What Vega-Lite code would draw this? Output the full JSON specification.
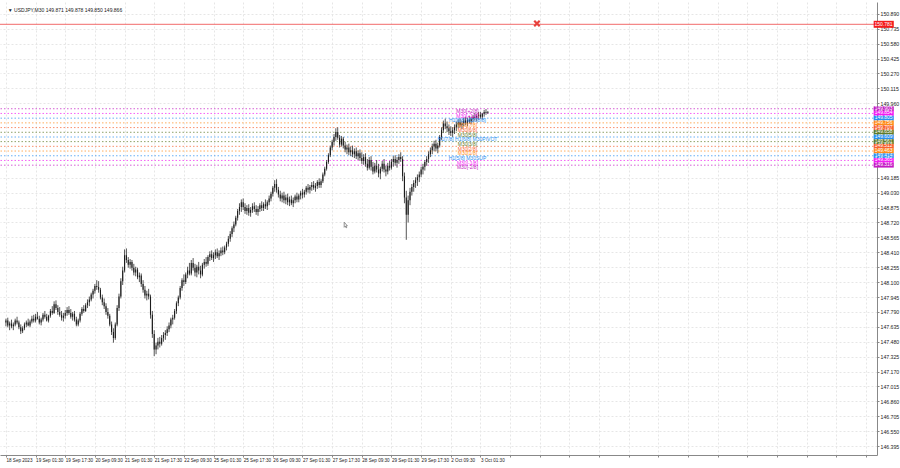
{
  "$schema": "https://vega.github.io/schema/vega-lite/v6.json",
  "width": 877,
  "height": 453,
  "autosize": {"type": "none"},
  "padding": {"left": 0, "top": 2, "right": 23, "bottom": 13},
  "background": "#ffffff",
  "config": {"view": {"stroke": null}, "font": "Liberation Sans", "axis": {"labelOverlap": false, "labelBound": false}},
  "resolve": {"axis": {"x": "independent", "y": "independent"}},
  "datasets": {
    "candles": [
      {"i":0,"o":147.68,"h":147.72,"l":147.64,"c":147.70},
      {"i":2,"o":147.70,"h":147.73,"l":147.63,"c":147.65},
      {"i":4,"o":147.65,"h":147.69,"l":147.60,"c":147.67},
      {"i":6,"o":147.67,"h":147.71,"l":147.62,"c":147.64},
      {"i":8,"o":147.64,"h":147.68,"l":147.60,"c":147.66},
      {"i":10,"o":147.66,"h":147.72,"l":147.64,"c":147.70},
      {"i":12,"o":147.70,"h":147.74,"l":147.66,"c":147.68},
      {"i":14,"o":147.68,"h":147.70,"l":147.61,"c":147.63},
      {"i":16,"o":147.63,"h":147.66,"l":147.56,"c":147.59},
      {"i":18,"o":147.59,"h":147.64,"l":147.57,"c":147.62},
      {"i":20,"o":147.62,"h":147.68,"l":147.60,"c":147.66},
      {"i":22,"o":147.66,"h":147.70,"l":147.63,"c":147.68},
      {"i":24,"o":147.68,"h":147.72,"l":147.64,"c":147.65},
      {"i":26,"o":147.65,"h":147.71,"l":147.63,"c":147.69},
      {"i":28,"o":147.69,"h":147.75,"l":147.67,"c":147.72},
      {"i":30,"o":147.72,"h":147.76,"l":147.68,"c":147.70},
      {"i":32,"o":147.70,"h":147.77,"l":147.68,"c":147.74},
      {"i":34,"o":147.74,"h":147.79,"l":147.71,"c":147.72},
      {"i":36,"o":147.72,"h":147.75,"l":147.66,"c":147.68},
      {"i":38,"o":147.68,"h":147.73,"l":147.65,"c":147.71},
      {"i":40,"o":147.71,"h":147.78,"l":147.69,"c":147.76},
      {"i":42,"o":147.76,"h":147.80,"l":147.72,"c":147.74},
      {"i":44,"o":147.74,"h":147.77,"l":147.69,"c":147.70},
      {"i":46,"o":147.70,"h":147.76,"l":147.68,"c":147.75},
      {"i":48,"o":147.75,"h":147.82,"l":147.73,"c":147.80},
      {"i":50,"o":147.80,"h":147.85,"l":147.76,"c":147.78},
      {"i":52,"o":147.78,"h":147.90,"l":147.77,"c":147.87},
      {"i":54,"o":147.87,"h":147.91,"l":147.81,"c":147.83},
      {"i":56,"o":147.83,"h":147.86,"l":147.76,"c":147.79},
      {"i":58,"o":147.79,"h":147.84,"l":147.74,"c":147.76},
      {"i":60,"o":147.76,"h":147.80,"l":147.70,"c":147.73},
      {"i":62,"o":147.73,"h":147.78,"l":147.69,"c":147.75},
      {"i":64,"o":147.75,"h":147.81,"l":147.72,"c":147.78},
      {"i":66,"o":147.78,"h":147.84,"l":147.75,"c":147.81},
      {"i":68,"o":147.81,"h":147.85,"l":147.76,"c":147.78},
      {"i":70,"o":147.78,"h":147.82,"l":147.72,"c":147.74},
      {"i":72,"o":147.74,"h":147.79,"l":147.70,"c":147.77},
      {"i":74,"o":147.77,"h":147.80,"l":147.69,"c":147.71},
      {"i":76,"o":147.71,"h":147.74,"l":147.64,"c":147.66},
      {"i":78,"o":147.66,"h":147.72,"l":147.64,"c":147.70},
      {"i":80,"o":147.70,"h":147.79,"l":147.68,"c":147.77},
      {"i":82,"o":147.77,"h":147.84,"l":147.75,"c":147.82},
      {"i":84,"o":147.82,"h":147.86,"l":147.78,"c":147.80},
      {"i":86,"o":147.80,"h":147.88,"l":147.79,"c":147.86},
      {"i":88,"o":147.86,"h":147.92,"l":147.83,"c":147.89},
      {"i":90,"o":147.89,"h":147.95,"l":147.85,"c":147.92},
      {"i":92,"o":147.92,"h":147.99,"l":147.90,"c":147.97},
      {"i":94,"o":147.97,"h":148.03,"l":147.93,"c":148.01},
      {"i":96,"o":148.01,"h":148.08,"l":147.98,"c":148.06},
      {"i":98,"o":148.06,"h":148.12,"l":148.02,"c":148.05},
      {"i":100,"o":148.05,"h":148.11,"l":147.99,"c":148.02},
      {"i":102,"o":148.02,"h":148.04,"l":147.92,"c":147.94},
      {"i":104,"o":147.94,"h":147.97,"l":147.86,"c":147.89},
      {"i":106,"o":147.89,"h":147.93,"l":147.82,"c":147.85},
      {"i":108,"o":147.85,"h":147.88,"l":147.76,"c":147.79},
      {"i":110,"o":147.79,"h":147.83,"l":147.72,"c":147.75},
      {"i":112,"o":147.75,"h":147.77,"l":147.64,"c":147.66},
      {"i":114,"o":147.66,"h":147.69,"l":147.55,"c":147.58},
      {"i":116,"o":147.58,"h":147.62,"l":147.47,"c":147.52},
      {"i":118,"o":147.52,"h":147.68,"l":147.50,"c":147.66},
      {"i":120,"o":147.66,"h":147.86,"l":147.64,"c":147.83},
      {"i":122,"o":147.83,"h":147.98,"l":147.80,"c":147.95},
      {"i":124,"o":147.95,"h":148.14,"l":147.93,"c":148.11},
      {"i":126,"o":148.11,"h":148.26,"l":148.07,"c":148.22},
      {"i":128,"o":148.22,"h":148.44,"l":148.20,"c":148.38},
      {"i":130,"o":148.38,"h":148.45,"l":148.30,"c":148.33},
      {"i":132,"o":148.33,"h":148.36,"l":148.25,"c":148.28},
      {"i":134,"o":148.28,"h":148.34,"l":148.24,"c":148.31},
      {"i":136,"o":148.31,"h":148.33,"l":148.22,"c":148.25},
      {"i":138,"o":148.25,"h":148.29,"l":148.17,"c":148.20},
      {"i":140,"o":148.20,"h":148.26,"l":148.16,"c":148.23},
      {"i":142,"o":148.23,"h":148.25,"l":148.13,"c":148.15},
      {"i":144,"o":148.15,"h":148.20,"l":148.10,"c":148.17},
      {"i":146,"o":148.17,"h":148.19,"l":148.05,"c":148.08},
      {"i":148,"o":148.08,"h":148.12,"l":147.99,"c":148.02},
      {"i":150,"o":148.02,"h":148.06,"l":147.93,"c":147.96},
      {"i":152,"o":147.96,"h":148.01,"l":147.91,"c":147.98},
      {"i":154,"o":147.98,"h":148.03,"l":147.92,"c":147.95},
      {"i":156,"o":147.95,"h":147.97,"l":147.72,"c":147.76},
      {"i":158,"o":147.76,"h":147.80,"l":147.52,"c":147.56},
      {"i":160,"o":147.56,"h":147.60,"l":147.33,"c":147.40},
      {"i":162,"o":147.40,"h":147.47,"l":147.35,"c":147.44},
      {"i":164,"o":147.44,"h":147.52,"l":147.40,"c":147.48},
      {"i":166,"o":147.48,"h":147.53,"l":147.42,"c":147.46},
      {"i":168,"o":147.46,"h":147.55,"l":147.44,"c":147.52},
      {"i":170,"o":147.52,"h":147.58,"l":147.48,"c":147.55},
      {"i":172,"o":147.55,"h":147.60,"l":147.50,"c":147.57},
      {"i":174,"o":147.57,"h":147.64,"l":147.54,"c":147.61},
      {"i":176,"o":147.61,"h":147.68,"l":147.58,"c":147.65},
      {"i":178,"o":147.65,"h":147.73,"l":147.62,"c":147.71},
      {"i":180,"o":147.71,"h":147.76,"l":147.66,"c":147.73},
      {"i":182,"o":147.73,"h":147.82,"l":147.71,"c":147.80},
      {"i":184,"o":147.80,"h":147.90,"l":147.77,"c":147.88},
      {"i":186,"o":147.88,"h":147.96,"l":147.85,"c":147.94},
      {"i":188,"o":147.94,"h":148.06,"l":147.92,"c":148.04},
      {"i":190,"o":148.04,"h":148.14,"l":148.01,"c":148.12},
      {"i":192,"o":148.12,"h":148.18,"l":148.06,"c":148.10},
      {"i":194,"o":148.10,"h":148.20,"l":148.08,"c":148.18},
      {"i":196,"o":148.18,"h":148.26,"l":148.14,"c":148.22},
      {"i":198,"o":148.22,"h":148.30,"l":148.17,"c":148.19},
      {"i":200,"o":148.19,"h":148.33,"l":148.17,"c":148.30},
      {"i":202,"o":148.30,"h":148.35,"l":148.22,"c":148.25},
      {"i":204,"o":148.25,"h":148.29,"l":148.16,"c":148.20},
      {"i":206,"o":148.20,"h":148.28,"l":148.15,"c":148.26},
      {"i":208,"o":148.26,"h":148.31,"l":148.18,"c":148.22},
      {"i":210,"o":148.22,"h":148.27,"l":148.14,"c":148.18},
      {"i":212,"o":148.18,"h":148.30,"l":148.16,"c":148.28},
      {"i":214,"o":148.28,"h":148.34,"l":148.24,"c":148.31},
      {"i":216,"o":148.31,"h":148.36,"l":148.26,"c":148.29},
      {"i":218,"o":148.29,"h":148.38,"l":148.27,"c":148.36},
      {"i":220,"o":148.36,"h":148.42,"l":148.32,"c":148.39},
      {"i":222,"o":148.39,"h":148.43,"l":148.33,"c":148.35},
      {"i":224,"o":148.35,"h":148.41,"l":148.31,"c":148.38},
      {"i":226,"o":148.38,"h":148.44,"l":148.34,"c":148.41},
      {"i":228,"o":148.41,"h":148.45,"l":148.35,"c":148.37},
      {"i":230,"o":148.37,"h":148.43,"l":148.33,"c":148.40},
      {"i":232,"o":148.40,"h":148.46,"l":148.37,"c":148.43},
      {"i":234,"o":148.43,"h":148.47,"l":148.38,"c":148.41},
      {"i":236,"o":148.41,"h":148.48,"l":148.39,"c":148.46},
      {"i":238,"o":148.46,"h":148.52,"l":148.43,"c":148.50},
      {"i":240,"o":148.50,"h":148.58,"l":148.47,"c":148.55},
      {"i":242,"o":148.55,"h":148.63,"l":148.52,"c":148.60},
      {"i":244,"o":148.60,"h":148.68,"l":148.57,"c":148.66},
      {"i":246,"o":148.66,"h":148.73,"l":148.62,"c":148.70},
      {"i":248,"o":148.70,"h":148.79,"l":148.68,"c":148.77},
      {"i":250,"o":148.77,"h":148.86,"l":148.74,"c":148.84},
      {"i":252,"o":148.84,"h":148.92,"l":148.80,"c":148.88},
      {"i":254,"o":148.88,"h":148.96,"l":148.83,"c":148.93},
      {"i":256,"o":148.93,"h":148.97,"l":148.85,"c":148.88},
      {"i":258,"o":148.88,"h":148.92,"l":148.81,"c":148.84},
      {"i":260,"o":148.84,"h":148.90,"l":148.80,"c":148.87},
      {"i":262,"o":148.87,"h":148.91,"l":148.79,"c":148.82},
      {"i":264,"o":148.82,"h":148.88,"l":148.78,"c":148.85},
      {"i":266,"o":148.85,"h":148.92,"l":148.82,"c":148.89},
      {"i":268,"o":148.89,"h":148.93,"l":148.83,"c":148.86},
      {"i":270,"o":148.86,"h":148.90,"l":148.80,"c":148.83},
      {"i":272,"o":148.83,"h":148.89,"l":148.79,"c":148.86},
      {"i":274,"o":148.86,"h":148.92,"l":148.83,"c":148.90},
      {"i":276,"o":148.90,"h":148.94,"l":148.84,"c":148.87},
      {"i":278,"o":148.87,"h":148.93,"l":148.84,"c":148.91},
      {"i":280,"o":148.91,"h":148.96,"l":148.86,"c":148.89},
      {"i":282,"o":148.89,"h":148.95,"l":148.85,"c":148.93},
      {"i":284,"o":148.93,"h":149.00,"l":148.90,"c":148.97},
      {"i":286,"o":148.97,"h":149.04,"l":148.94,"c":149.02},
      {"i":288,"o":149.02,"h":149.10,"l":148.99,"c":149.08},
      {"i":290,"o":149.08,"h":149.16,"l":149.04,"c":149.12},
      {"i":292,"o":149.12,"h":149.17,"l":149.03,"c":149.06},
      {"i":294,"o":149.06,"h":149.09,"l":148.98,"c":149.01},
      {"i":296,"o":149.01,"h":149.05,"l":148.94,"c":148.97},
      {"i":298,"o":148.97,"h":149.03,"l":148.93,"c":149.00},
      {"i":300,"o":149.00,"h":149.04,"l":148.92,"c":148.95},
      {"i":302,"o":148.95,"h":149.01,"l":148.91,"c":148.98},
      {"i":304,"o":148.98,"h":149.02,"l":148.90,"c":148.93},
      {"i":306,"o":148.93,"h":148.99,"l":148.89,"c":148.96},
      {"i":308,"o":148.96,"h":149.00,"l":148.90,"c":148.92},
      {"i":310,"o":148.92,"h":148.98,"l":148.88,"c":148.95},
      {"i":312,"o":148.95,"h":149.01,"l":148.92,"c":148.99},
      {"i":314,"o":148.99,"h":149.03,"l":148.93,"c":148.96},
      {"i":316,"o":148.96,"h":149.02,"l":148.93,"c":149.00},
      {"i":318,"o":149.00,"h":149.05,"l":148.96,"c":149.03},
      {"i":320,"o":149.03,"h":149.07,"l":148.97,"c":149.01},
      {"i":322,"o":149.01,"h":149.06,"l":148.98,"c":149.04},
      {"i":324,"o":149.04,"h":149.10,"l":149.01,"c":149.08},
      {"i":326,"o":149.08,"h":149.12,"l":149.03,"c":149.06},
      {"i":328,"o":149.06,"h":149.11,"l":149.02,"c":149.09},
      {"i":330,"o":149.09,"h":149.14,"l":149.05,"c":149.11},
      {"i":332,"o":149.11,"h":149.15,"l":149.06,"c":149.08},
      {"i":334,"o":149.08,"h":149.13,"l":149.04,"c":149.10},
      {"i":336,"o":149.10,"h":149.16,"l":149.07,"c":149.14},
      {"i":338,"o":149.14,"h":149.18,"l":149.08,"c":149.11},
      {"i":340,"o":149.11,"h":149.17,"l":149.08,"c":149.15},
      {"i":342,"o":149.15,"h":149.24,"l":149.13,"c":149.22},
      {"i":344,"o":149.22,"h":149.30,"l":149.20,"c":149.28},
      {"i":346,"o":149.28,"h":149.37,"l":149.26,"c":149.35},
      {"i":348,"o":149.35,"h":149.44,"l":149.33,"c":149.42},
      {"i":350,"o":149.42,"h":149.52,"l":149.40,"c":149.50},
      {"i":352,"o":149.50,"h":149.58,"l":149.47,"c":149.56},
      {"i":354,"o":149.56,"h":149.64,"l":149.52,"c":149.61},
      {"i":356,"o":149.61,"h":149.70,"l":149.57,"c":149.66},
      {"i":358,"o":149.66,"h":149.71,"l":149.58,"c":149.60},
      {"i":360,"o":149.60,"h":149.63,"l":149.50,"c":149.53},
      {"i":362,"o":149.53,"h":149.62,"l":149.51,"c":149.59},
      {"i":364,"o":149.59,"h":149.61,"l":149.49,"c":149.52},
      {"i":366,"o":149.52,"h":149.56,"l":149.45,"c":149.48},
      {"i":368,"o":149.48,"h":149.53,"l":149.43,"c":149.50},
      {"i":370,"o":149.50,"h":149.54,"l":149.42,"c":149.45},
      {"i":372,"o":149.45,"h":149.51,"l":149.41,"c":149.47},
      {"i":374,"o":149.47,"h":149.52,"l":149.40,"c":149.43},
      {"i":376,"o":149.43,"h":149.49,"l":149.39,"c":149.46},
      {"i":378,"o":149.46,"h":149.50,"l":149.38,"c":149.41},
      {"i":380,"o":149.41,"h":149.47,"l":149.37,"c":149.44},
      {"i":382,"o":149.44,"h":149.48,"l":149.36,"c":149.39},
      {"i":384,"o":149.39,"h":149.45,"l":149.33,"c":149.36},
      {"i":386,"o":149.36,"h":149.43,"l":149.32,"c":149.40},
      {"i":388,"o":149.40,"h":149.44,"l":149.30,"c":149.33},
      {"i":390,"o":149.33,"h":149.38,"l":149.26,"c":149.29},
      {"i":392,"o":149.29,"h":149.40,"l":149.27,"c":149.37},
      {"i":394,"o":149.37,"h":149.41,"l":149.26,"c":149.30},
      {"i":396,"o":149.30,"h":149.35,"l":149.22,"c":149.25},
      {"i":398,"o":149.25,"h":149.34,"l":149.23,"c":149.31},
      {"i":400,"o":149.31,"h":149.37,"l":149.24,"c":149.27},
      {"i":402,"o":149.27,"h":149.33,"l":149.19,"c":149.23},
      {"i":404,"o":149.23,"h":149.30,"l":149.17,"c":149.28},
      {"i":406,"o":149.28,"h":149.36,"l":149.25,"c":149.33},
      {"i":408,"o":149.33,"h":149.38,"l":149.24,"c":149.27},
      {"i":410,"o":149.27,"h":149.31,"l":149.20,"c":149.25},
      {"i":412,"o":149.25,"h":149.34,"l":149.22,"c":149.31},
      {"i":414,"o":149.31,"h":149.36,"l":149.26,"c":149.29},
      {"i":416,"o":149.29,"h":149.38,"l":149.27,"c":149.35},
      {"i":418,"o":149.35,"h":149.41,"l":149.30,"c":149.38},
      {"i":420,"o":149.38,"h":149.42,"l":149.31,"c":149.34},
      {"i":422,"o":149.34,"h":149.40,"l":149.29,"c":149.37},
      {"i":424,"o":149.37,"h":149.43,"l":149.33,"c":149.40},
      {"i":426,"o":149.40,"h":149.45,"l":149.35,"c":149.38},
      {"i":428,"o":149.38,"h":149.41,"l":149.15,"c":149.20},
      {"i":430,"o":149.20,"h":149.24,"l":148.92,"c":148.98},
      {"i":432,"o":148.98,"h":149.05,"l":148.54,"c":148.80},
      {"i":434,"o":148.80,"h":149.00,"l":148.72,"c":148.95},
      {"i":436,"o":148.95,"h":149.08,"l":148.90,"c":149.04},
      {"i":438,"o":149.04,"h":149.12,"l":149.00,"c":149.09},
      {"i":440,"o":149.09,"h":149.16,"l":149.04,"c":149.13},
      {"i":442,"o":149.13,"h":149.19,"l":149.08,"c":149.16},
      {"i":444,"o":149.16,"h":149.22,"l":149.10,"c":149.19},
      {"i":446,"o":149.19,"h":149.25,"l":149.14,"c":149.22},
      {"i":448,"o":149.22,"h":149.30,"l":149.19,"c":149.27},
      {"i":450,"o":149.27,"h":149.33,"l":149.22,"c":149.30},
      {"i":452,"o":149.30,"h":149.37,"l":149.26,"c":149.35},
      {"i":454,"o":149.35,"h":149.41,"l":149.31,"c":149.38},
      {"i":456,"o":149.38,"h":149.46,"l":149.34,"c":149.43},
      {"i":458,"o":149.43,"h":149.50,"l":149.40,"c":149.47},
      {"i":460,"o":149.47,"h":149.54,"l":149.43,"c":149.51},
      {"i":462,"o":149.51,"h":149.57,"l":149.46,"c":149.54},
      {"i":464,"o":149.54,"h":149.58,"l":149.46,"c":149.49},
      {"i":466,"o":149.49,"h":149.55,"l":149.44,"c":149.52},
      {"i":468,"o":149.52,"h":149.63,"l":149.50,"c":149.61},
      {"i":470,"o":149.61,"h":149.71,"l":149.58,"c":149.68},
      {"i":472,"o":149.68,"h":149.78,"l":149.65,"c":149.75},
      {"i":474,"o":149.75,"h":149.80,"l":149.69,"c":149.72},
      {"i":476,"o":149.72,"h":149.77,"l":149.66,"c":149.70},
      {"i":478,"o":149.70,"h":149.74,"l":149.63,"c":149.67},
      {"i":480,"o":149.67,"h":149.72,"l":149.62,"c":149.65},
      {"i":482,"o":149.65,"h":149.71,"l":149.61,"c":149.68},
      {"i":484,"o":149.68,"h":149.74,"l":149.64,"c":149.71},
      {"i":486,"o":149.71,"h":149.77,"l":149.67,"c":149.74},
      {"i":488,"o":149.74,"h":149.79,"l":149.70,"c":149.76},
      {"i":490,"o":149.76,"h":149.80,"l":149.71,"c":149.73},
      {"i":492,"o":149.73,"h":149.78,"l":149.69,"c":149.75},
      {"i":494,"o":149.75,"h":149.81,"l":149.72,"c":149.78},
      {"i":496,"o":149.78,"h":149.82,"l":149.73,"c":149.76},
      {"i":498,"o":149.76,"h":149.81,"l":149.72,"c":149.79},
      {"i":500,"o":149.79,"h":149.83,"l":149.75,"c":149.77},
      {"i":502,"o":149.77,"h":149.82,"l":149.74,"c":149.80},
      {"i":504,"o":149.80,"h":149.84,"l":149.76,"c":149.82},
      {"i":506,"o":149.82,"h":149.86,"l":149.78,"c":149.81},
      {"i":508,"o":149.81,"h":149.85,"l":149.77,"c":149.83},
      {"i":510,"o":149.83,"h":149.87,"l":149.79,"c":149.84},
      {"i":512,"o":149.84,"h":149.87,"l":149.80,"c":149.82},
      {"i":514,"o":149.82,"h":149.86,"l":149.79,"c":149.85},
      {"i":516,"o":149.85,"h":149.89,"l":149.82,"c":149.87},
      {"i":518,"o":149.87,"h":149.90,"l":149.84,"c":149.86},
      {"i":520,"o":149.86,"h":149.88,"l":149.85,"c":149.87}
    ],
    "levels": [
      {"p":149.903,"k":"+2/8","t":"M30[+2/8]"},
      {"p":149.854,"k":"+1/8","t":"M30[+1/8]"},
      {"p":149.805,"k":"8/8","t":"H1[8/8] M30[8/8]"},
      {"p":149.756,"k":"7/8","t":"M30[7/8]"},
      {"p":149.707,"k":"6/8","t":"M30[6/8]"},
      {"p":149.658,"k":"5/8","t":"M30[5/8]"},
      {"p":149.609,"k":"4/8","t":"H1[7/8] H1[6/8] M30PIVOT"},
      {"p":149.561,"k":"3/8","t":"M30[3/8]"},
      {"p":149.512,"k":"2/8","t":"M30[2/8]"},
      {"p":149.463,"k":"1/8","t":"M30[1/8]"},
      {"p":149.414,"k":"0/8","t":"H1[5/8] M30SUP"},
      {"p":149.365,"k":"-1/8","t":"M30[-1/8]"},
      {"p":149.316,"k":"-2/8","t":"M30[-2/8]"}
    ],
    "redline": [{"p":150.781}],
    "marker": [{"i":573,"p":150.79}],
    "caption": [{"i":2,"p":150.93,"t":"▼ USDJPY,M30  149.871 149.878 149.850 149.866"}],
    "cursor": [{"i":365,"p":148.69}]
  },
  "layer": [
    {
      "data": {"name": "levels"},
      "mark": {"type": "rule", "strokeDash": [1.5, 2], "strokeWidth": 1, "opacity": 0.7},
      "encoding": {
        "y": {"field": "p", "type": "quantitative", "axis": null,
          "scale": {"domain": [146.354, 150.961], "nice": false, "zero": false}},
        "color": {"field": "k", "type": "nominal", "legend": null,
          "scale": {"domain": ["+2/8","+1/8","8/8","7/8","6/8","5/8","4/8","3/8","2/8","1/8","0/8","-1/8","-2/8"],
                    "range": ["#c21bc2","#f21cf2","#2a8ff0","#ff8c1a","#f8612f","#5f7a2a","#2a8ff0","#5f7a2a","#f8612f","#ff8c1a","#2a8ff0","#f21cf2","#c21bc2"]}}
      }
    },
    {
      "data": {"name": "redline"},
      "mark": {"type": "rule", "color": "#f26b6b", "strokeWidth": 1},
      "encoding": {"y": {"field": "p", "type": "quantitative", "axis": null}}
    },
    {
      "data": {"name": "candles"},
      "mark": {"type": "rule", "color": "#555555", "strokeWidth": 1},
      "encoding": {
        "x": {"field": "i", "type": "quantitative",
          "scale": {"domain": [-1, 934.5], "nice": false, "zero": false},
          "axis": {
            "title": null, "orient": "bottom",
            "values": [0,32,64,96,128,160,192,224,256,288,320,352,384,416,448,480,512,544,576,608,640,672,704,736,768,800,832,864,896,928],
            "labelExpr": "datum.value <= 512 ? ['18 Sep 2023','19 Sep 01:30','19 Sep 17:30','20 Sep 09:30','21 Sep 01:30','21 Sep 17:30','22 Sep 09:30','25 Sep 01:30','25 Sep 17:30','26 Sep 09:30','27 Sep 01:30','27 Sep 17:30','28 Sep 09:30','29 Sep 01:30','29 Sep 17:30','2 Oct 09:30','3 Oct 01:30'][round(datum.value/32)] : ''",
            "labelAlign": "left", "labelBaseline": "top", "labelPadding": 0, "labelFontSize": 4.6,
            "labelColor": "#222222", "labelFlush": false, "labelOverlap": false, "labelBound": false,
            "tickSize": 2, "tickColor": "#888888", "domainColor": "#888888",
            "grid": true, "gridColor": "#e6e6e6", "gridDash": [2, 2]
          }
        },
        "y": {"field": "l", "type": "quantitative",
          "axis": {
            "title": null, "orient": "right",
            "values": [146.395,146.55,146.705,146.86,147.015,147.17,147.325,147.48,147.635,147.79,147.945,148.1,148.255,148.41,148.565,148.72,148.875,149.03,149.185,149.96,150.115,150.27,150.425,150.58,150.735,150.89],
            "format": ".3f", "labelFontSize": 5.2, "labelColor": "#222222", "labelPadding": 1,
            "tickSize": 2, "tickColor": "#888888", "domainColor": "#888888", "labelOverlap": false, "labelBound": false,
            "grid": true, "gridColor": "#e6e6e6", "gridDash": [2, 2]
          }
        },
        "y2": {"field": "h"}
      }
    },
    {
      "data": {"name": "candles"},
      "mark": {"type": "bar", "color": "#1c1c1c", "size": 1.1},
      "encoding": {
        "x": {"field": "i", "type": "quantitative", "axis": null},
        "y": {"field": "o", "type": "quantitative", "axis": null},
        "y2": {"field": "c"}
      }
    },
    {
      "data": {"name": "levels"},
      "mark": {"type": "text", "align": "center", "baseline": "top", "fontSize": 5, "dy": 0.3},
      "encoding": {
        "x": {"datum": 498, "type": "quantitative", "axis": null},
        "y": {"field": "p", "type": "quantitative", "axis": null},
        "text": {"field": "t"},
        "color": {"field": "k", "type": "nominal", "legend": null}
      }
    },
    {
      "data": {"name": "levels"},
      "mark": {"type": "bar", "size": 4.8},
      "encoding": {
        "x": {"datum": 936.3, "type": "quantitative", "axis": null},
        "x2": {"datum": 958},
        "y": {"field": "p", "type": "quantitative", "axis": null},
        "color": {"field": "k", "type": "nominal", "legend": null}
      }
    },
    {
      "data": {"name": "levels"},
      "mark": {"type": "text", "align": "center", "baseline": "middle", "fontSize": 4.9, "color": "#ffffff"},
      "encoding": {
        "x": {"datum": 947, "type": "quantitative", "axis": null},
        "y": {"field": "p", "type": "quantitative", "axis": null},
        "text": {"field": "p", "type": "quantitative", "format": ".3f"}
      }
    },
    {
      "data": {"name": "redline"},
      "mark": {"type": "bar", "size": 7, "color": "#f41c1c"},
      "encoding": {
        "x": {"datum": 936.3, "type": "quantitative", "axis": null},
        "x2": {"datum": 958},
        "y": {"field": "p", "type": "quantitative", "axis": null}
      }
    },
    {
      "data": {"name": "redline"},
      "mark": {"type": "text", "align": "center", "baseline": "middle", "fontSize": 5, "color": "#ffffff"},
      "encoding": {
        "x": {"datum": 947, "type": "quantitative", "axis": null},
        "y": {"field": "p", "type": "quantitative", "axis": null},
        "text": {"field": "p", "type": "quantitative", "format": ".3f"}
      }
    },
    {
      "data": {"name": "marker"},
      "mark": {"type": "point", "shape": "M-1,-1L1,1M1,-1L-1,1", "size": 30, "strokeWidth": 2.2, "color": "#e8413c", "opacity": 1, "filled": false},
      "encoding": {
        "x": {"field": "i", "type": "quantitative", "axis": null},
        "y": {"field": "p", "type": "quantitative", "axis": null}
      }
    },
    {
      "data": {"name": "caption"},
      "mark": {"type": "text", "align": "left", "baseline": "middle", "fontSize": 5, "color": "#1a1a1a"},
      "encoding": {
        "x": {"field": "i", "type": "quantitative", "axis": null},
        "y": {"field": "p", "type": "quantitative", "axis": null},
        "text": {"field": "t"}
      }
    },
    {
      "data": {"name": "cursor"},
      "mark": {"type": "point", "shape": "M0,-1L0,0.6L0.35,0.25L0.6,0.8L0.8,0.7L0.55,0.15L1,0.15Z", "size": 40, "strokeWidth": 0.8, "stroke": "#777777", "fill": "#ffffff", "filled": true, "opacity": 1},
      "encoding": {
        "x": {"field": "i", "type": "quantitative", "axis": null},
        "y": {"field": "p", "type": "quantitative", "axis": null}
      }
    }
  ]
}
